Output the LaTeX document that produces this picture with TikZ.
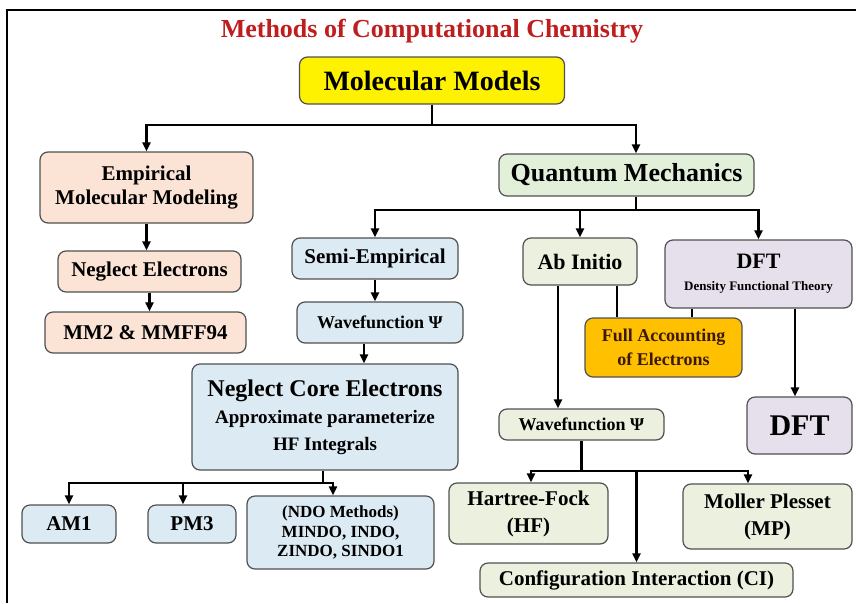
\documentclass[tikz,border=0pt]{standalone}
\usepackage{fontspec}
\setmainfont{Liberation Serif}
\usetikzlibrary{arrows.meta}

\definecolor{titlered}{RGB}{190,30,30}
\definecolor{edge}{RGB}{80,80,80}
\definecolor{peach}{RGB}{251,228,213}
\definecolor{qmgreen}{RGB}{226,239,217}
\definecolor{aigreen}{RGB}{235,241,222}
\definecolor{semiblue}{RGB}{219,234,243}
\definecolor{dftpurple}{RGB}{229,224,236}
\definecolor{amber}{RGB}{255,192,0}
\definecolor{darkbrown}{RGB}{60,25,10}

\newcommand*{\picw}{856}
\newcommand*{\pich}{603}
\newcommand*{\boxfont}[2]{\fontsize{#1}{#2}\selectfont\bfseries}

\begin{document}
\begin{tikzpicture}
[
	x=1pt, y=-1pt,
	box/.style={draw=edge,line width=1.2pt,rounded corners=8pt,inner sep=0pt,align=center},
	arr/.style={line width=2.2pt,-{Triangle[length=9pt,width=8pt]}},
	link/.style={line width=2.2pt}
]

	\useasboundingbox (0,0) rectangle (\picw,\pich);

	% frame
	\draw[line width=2pt] (7,\pich) -- (7,10) -- (\picw,10);

	% title
	\node[text=titlered,font=\boxfont{26}{28}] (title) at (432,31) {Methods of Computational Chemistry};

	% top level
	\node[box,fill=yellow,minimum width=265pt,minimum height=47pt,font=\boxfont{28}{32}] (mm) at (432,80.5) {Molecular Models};

	% empirical branch
	\node[box,fill=peach,minimum width=213pt,minimum height=71pt,font=\boxfont{21}{24}] (emp) at (146.5,187.5) {Empirical\\Molecular Modeling};
	\node[box,fill=peach,minimum width=183pt,minimum height=41pt,font=\boxfont{21}{24}] (negel) at (149.5,271.5) {Neglect Electrons};
	\node[box,fill=peach,minimum width=201pt,minimum height=41pt,font=\boxfont{21}{24}] (mmff) at (145.5,332.5) {MM2 \& MMFF94};

	% quantum branch
	\node[box,fill=qmgreen,minimum width=255pt,minimum height=42pt,font=\boxfont{26}{30}] (qm) at (626.5,175) {Quantum Mechanics};

	\node[box,fill=semiblue,minimum width=166pt,minimum height=41pt,font=\boxfont{21}{24}] (semi) at (375,258.5) {Semi-Empirical};
	\node[box,fill=semiblue,minimum width=166pt,minimum height=41pt,font=\boxfont{18}{20}] (wfsemi) at (380,322.5) {Wavefunction Ψ};
	\node[box,fill=semiblue,minimum width=266pt,minimum height=106pt,font=\boxfont{19}{26}] (ncore) at (325,417)
		{\boxfont{24}{28}Neglect Core Electrons\\[1pt]Approximate parameterize\\[1pt]HF Integrals};
	\node[box,fill=semiblue,minimum width=94pt,minimum height=38pt,font=\boxfont{21}{24}] (am1) at (69,524) {AM1};
	\node[box,fill=semiblue,minimum width=88pt,minimum height=38pt,font=\boxfont{21}{24}] (pm3) at (192,524) {PM3};
	\node[box,fill=semiblue,minimum width=187pt,minimum height=73pt,font=\boxfont{17}{19.5}] (ndo) at (340.5,532.5) {(NDO Methods)\\MINDO, INDO,\\ZINDO, SINDO1};

	\node[box,fill=aigreen,minimum width=114pt,minimum height=47pt,font=\boxfont{22}{24}] (abinit) at (580,261.5) {Ab Initio};
	\node[box,fill=dftpurple,minimum width=187pt,minimum height=68pt,font=\boxfont{13}{16}] (dft) at (758.5,274)
		{\boxfont{22}{24}DFT\\[6pt]Density Functional Theory};
	\node[box,fill=amber,minimum width=157pt,minimum height=59pt,text=darkbrown,font=\boxfont{18}{24}] (full) at (663.5,347.5) {Full Accounting\\of Electrons};
	\node[box,fill=aigreen,minimum width=165pt,minimum height=31pt,font=\boxfont{18}{20}] (wfai) at (581.5,424.5) {Wavefunction Ψ};
	\node[box,fill=dftpurple,minimum width=105pt,minimum height=57pt,font=\boxfont{30}{34}] (dftbox) at (799.5,425.5) {DFT};
	\node[box,fill=aigreen,minimum width=159pt,minimum height=61pt,font=\boxfont{21}{27}] (hf) at (528.5,513.5) {Hartree-Fock\\(HF)};
	\node[box,fill=aigreen,minimum width=169pt,minimum height=65pt,font=\boxfont{21}{27}] (mp) at (767.5,516.5) {Moller Plesset\\(MP)};
	\node[box,fill=aigreen,minimum width=313pt,minimum height=34pt,font=\boxfont{21}{24}] (ci) at (636.5,580) {Configuration Interaction (CI)};

	% connectors
	\coordinate (mmfork) at (mm.south |- 0,125);
	\draw[link] (mm.south) -- (mmfork);
	\draw[arr] (mmfork) -| (emp.north);
	\draw[arr] (mmfork) -| ([xshift=9.5pt]qm.north);

	\draw[arr] (emp) -- (emp.south |- negel.north);
	\draw[arr] (negel) -- (negel.south |- mmff.north);

	\coordinate (qmout) at ([xshift=9.5pt]qm.south);
	\coordinate (qmfork) at (qmout |- 0,210);
	\draw[link] (qmout) -- (qmfork);
	\draw[arr] (qmfork) -| (semi.north);
	\draw[arr] (qmfork) -| (abinit.north);
	\draw[arr] (qmfork) -| (dft.north);

	\draw[arr] (semi.south) -- (semi.south |- wfsemi.north);
	\coordinate (wfout) at ([xshift=-16pt]wfsemi.south);
	\draw[arr] (wfout) -- (wfout |- ncore.north);

	\coordinate (ncfork) at ([xshift=-2pt]ncore.south |- 0,483);
	\draw[link] ([xshift=-2pt]ncore.south) -- (ncfork);
	\draw[arr] (ncfork) -| (am1.north);
	\draw[arr] (ncfork) -| ([xshift=-9pt]pm3.north);
	\draw[arr] (ncfork) -| ([xshift=-7.5pt]ndo.north);

	\coordinate (aiout) at ([xshift=-22pt]abinit.south);
	\draw[arr] (aiout) -- (aiout |- wfai.north);
	\coordinate (aifull) at ([xshift=37pt]abinit.south);
	\draw[link] (aifull) -- (aifull |- full.north);
	\coordinate (dftfull) at ([xshift=-66.5pt]dft.south);
	\draw[link] (dftfull) -- (dftfull |- full.north);
	\coordinate (dftout) at ([xshift=36.5pt]dft.south);
	\draw[arr] (dftout) -- (dftout |- dftbox.north);

	\coordinate (wffork) at (wfai.south |- 0,471);
	\draw[link] (wfai.south) -- (wffork);
	\draw[arr] (wffork) -| ([xshift=2.5pt]hf.north);
	\draw[arr] (wffork) -| ([xshift=-19.5pt]mp.north);
	\draw[arr] (ci.north |- wffork) -- (ci.north);

\end{tikzpicture}
\end{document}
